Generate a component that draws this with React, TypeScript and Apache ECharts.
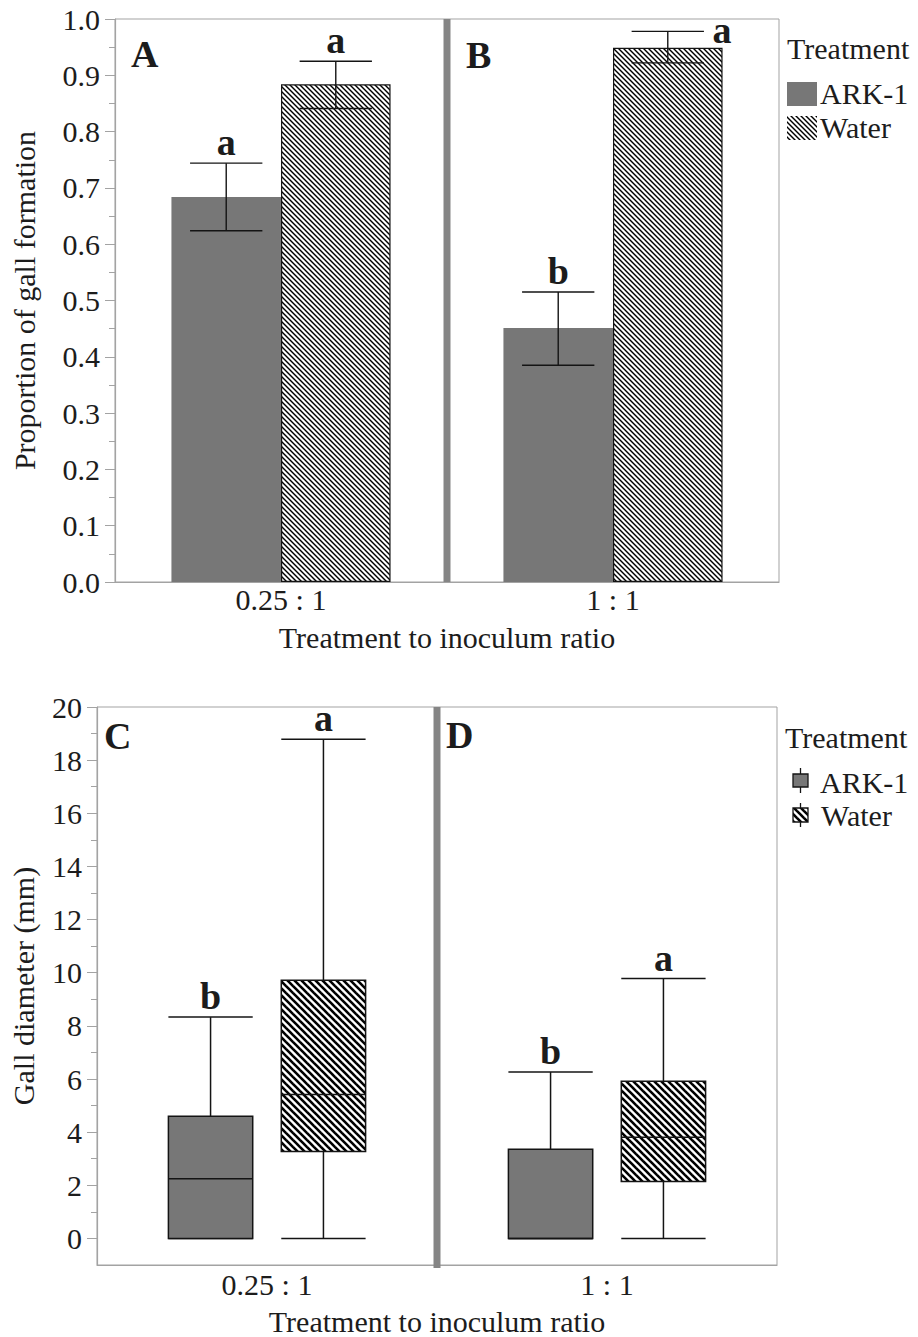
import React, { useEffect, useRef } from "react";
import * as echarts from "echarts";

// ---------- data ----------
const ratioCategories = ["0.25 : 1", "1 : 1"];
const treatmentNames = ["ARK-1", "Water"];

// Panels A/B: proportion of gall formation (mean and error-bar limits)
const arkMean = [0.684, 0.451];
const arkLow = [0.624, 0.385];
const arkHigh = [0.744, 0.515];
const waterMean = [0.884, 0.949];
const waterLow = [0.841, 0.922];
const waterHigh = [0.925, 0.978];
const arkPropLetters = ["a", "b"];
const waterPropLetters = ["a", "a"];

// Panels C/D: gall diameter (mm) box plots [min, Q1, median, Q3, max]
const arkDiameter = [
  [0, 0, 2.25, 4.6, 8.33],
  [0, 0, 0, 3.36, 6.26],
];
const waterDiameter = [
  [0, 3.27, 5.42, 9.72, 18.79],
  [0, 2.14, 3.81, 5.92, 9.78],
];
const arkDiamLetters = ["b", "b"];
const waterDiamLetters = ["a", "a"];

const diameterTicks = [0, 2, 4, 6, 8, 10, 12, 14, 16, 18, 20];
const diameterMinorTicks = [1, 3, 5, 7, 9, 11, 13, 15, 17, 19];
const topPanelLabels = ["A", "B"];
const bottomPanelLabels = ["C", "D"];

// ---------- layout / style ----------
const TOP = { left: 115, top: 19, width: 664, height: 563 };
const BOT = { left: 97, top: 707, width: 680, height: 561 };
const SERIF = '"Liberation Serif", "Times New Roman", serif';
const TEXT = "#1c1c1c";
const AXIS = "#a3a3a3";
const GRAY = "#777777";
const DIVIDER = "#858585";
const BAR_CAT_GAP = 0.34;
const LINE = "#141414";

function makeHatch(pitch: number, lw: number) {
  const c = document.createElement("canvas");
  c.width = pitch;
  c.height = pitch;
  const ctx = c.getContext("2d")!;
  ctx.fillStyle = "#ffffff";
  ctx.fillRect(0, 0, pitch, pitch);
  ctx.strokeStyle = "#000000";
  ctx.lineWidth = lw;
  for (const o of [-pitch, 0, pitch]) {
    ctx.beginPath();
    ctx.moveTo(o - 2, -2);
    ctx.lineTo(o + pitch + 2, pitch + 2);
    ctx.stroke();
  }
  return { image: c, repeat: "repeat", imageWidth: pitch, imageHeight: pitch };
}

function letterStyle(text: string) {
  return {
    text,
    font: `bold 38px ${SERIF}`,
    fill: TEXT,
    align: "center",
    verticalAlign: "middle",
  };
}

function errorRenderer(sign: number, letters: string[]) {
  return (params: any, api: any) => {
    const i = api.value(0);
    const lo = api.coord([i, api.value(1)]);
    const hi = api.coord([i, api.value(2)]);
    const band = api.size([1, 0])[0];
    const barW = (band * (1 - BAR_CAT_GAP)) / 2;
    const cx = lo[0] + (sign * barW) / 2;
    const capHalf = barW * 0.33;
    const style = { stroke: LINE, lineWidth: 1.4 };
    const crowded = hi[1] - 40 < params.coordSys.y;
    const tx = crowded ? cx + capHalf + 18 : cx;
    const ty = crowded ? hi[1] - 1 : hi[1] - 21;
    return {
      type: "group",
      children: [
        { type: "line", shape: { x1: cx, y1: lo[1], x2: cx, y2: hi[1] }, style },
        { type: "line", shape: { x1: cx - capHalf, y1: lo[1], x2: cx + capHalf, y2: lo[1] }, style },
        { type: "line", shape: { x1: cx - capHalf, y1: hi[1], x2: cx + capHalf, y2: hi[1] }, style },
        { type: "text", x: tx, y: ty, style: letterStyle(letters[params.dataIndex]) },
      ],
    };
  };
}

function boxRenderer(sign: number, letters: string[], fill: any) {
  return (params: any, api: any) => {
    const i = api.value(0);
    const band = api.size([1, 0])[0];
    const base = api.coord([i, 0])[0];
    const cx = base + sign * band * 0.166;
    const half = band * 0.124;
    const y = (k: number) => api.coord([i, api.value(k)])[1];
    const yMin = y(1), yQ1 = y(2), yMed = y(3), yQ3 = y(4), yMax = y(5);
    const style = { stroke: LINE, lineWidth: 1.5 };
    return {
      type: "group",
      children: [
        { type: "line", shape: { x1: cx, y1: yQ3, x2: cx, y2: yMax }, style },
        { type: "line", shape: { x1: cx, y1: yQ1, x2: cx, y2: yMin }, style },
        { type: "line", shape: { x1: cx - half, y1: yMax, x2: cx + half, y2: yMax }, style },
        { type: "line", shape: { x1: cx - half, y1: yMin, x2: cx + half, y2: yMin }, style },
        {
          type: "rect",
          shape: { x: cx - half, y: yQ3, width: half * 2, height: yQ1 - yQ3 },
          style: { fill, stroke: LINE, lineWidth: 1.5 },
        },
        { type: "line", shape: { x1: cx - half, y1: yMed, x2: cx + half, y2: yMed }, style },
        { type: "text", x: cx, y: yMax - 21, style: letterStyle(letters[params.dataIndex]) },
      ],
    };
  };
}

function plainText(text: string, x: number, y: number, size = 30, bold = false) {
  return {
    type: "text",
    x,
    y,
    z: 100,
    style: {
      text,
      font: `${bold ? "bold " : ""}${size}px ${SERIF}`,
      fill: TEXT,
      align: "left",
      verticalAlign: "middle",
    },
  };
}

export default function App() {
  const ref = useRef<HTMLDivElement>(null);

  useEffect(() => {
    if (!ref.current) return;
    const chart = echarts.init(ref.current, undefined, { renderer: "svg" });
    const hatchTop = makeHatch(5, 1.4);
    const hatchBot = makeHatch(7, 2.6);

    const axisName = { fontSize: 30, color: TEXT, fontFamily: SERIF };
    const tickLabel = { fontSize: 30, color: TEXT, fontFamily: SERIF };

    const option: any = {
      animation: false,
      backgroundColor: "#ffffff",
      textStyle: { fontFamily: SERIF },
      grid: [
        { left: TOP.left, top: TOP.top, width: TOP.width, height: TOP.height, show: true, borderColor: AXIS, borderWidth: 1, backgroundColor: "transparent" },
        { left: BOT.left, top: BOT.top, width: BOT.width, height: BOT.height, show: true, borderColor: AXIS, borderWidth: 1, backgroundColor: "transparent" },
      ],
      xAxis: [
        {
          type: "category",
          gridIndex: 0,
          data: ratioCategories,
          axisLine: { onZero: false, lineStyle: { color: AXIS, width: 1.2 } },
          axisTick: { show: false },
          axisLabel: { ...tickLabel, margin: 2 },
          name: "Treatment to inoculum ratio",
          nameLocation: "middle",
          nameGap: 40,
          nameTextStyle: axisName,
        },
        {
          type: "category",
          gridIndex: 1,
          data: ratioCategories,
          axisLine: { onZero: false, lineStyle: { color: AXIS, width: 1.2 } },
          axisTick: { show: false },
          axisLabel: { ...tickLabel, margin: 4 },
          name: "Treatment to inoculum ratio",
          nameLocation: "middle",
          nameGap: 41,
          nameTextStyle: axisName,
        },
      ],
      yAxis: [
        {
          type: "value",
          gridIndex: 0,
          position: "left",
          min: 0,
          max: 1,
          interval: 0.1,
          axisLine: { show: true, lineStyle: { color: AXIS, width: 1.2 } },
          axisTick: { show: true, length: 10, lineStyle: { color: AXIS } },
          minorTick: { show: true, splitNumber: 2, length: 6, lineStyle: { color: AXIS } },
          splitLine: { show: false },
          axisLabel: { ...tickLabel, margin: 15, formatter: (v: number) => v.toFixed(1) },
          name: "Proportion of gall formation",
          nameLocation: "middle",
          nameGap: 76,
          nameTextStyle: axisName,
        },
        {
          type: "value",
          gridIndex: 1,
          position: "left",
          min: -1,
          max: 20,
          axisLine: { show: true, lineStyle: { color: AXIS, width: 1.2 } },
          axisTick: { show: true, length: 10, lineStyle: { color: AXIS }, customValues: diameterTicks },
          splitLine: { show: false },
          axisLabel: { ...tickLabel, margin: 15, customValues: diameterTicks },
          name: "Gall diameter (mm)",
          nameLocation: "middle",
          nameGap: 59,
          nameTextStyle: axisName,
        },
        {
          type: "value",
          gridIndex: 1,
          position: "left",
          min: -1,
          max: 20,
          axisLine: { show: false },
          axisTick: { show: true, length: 6, lineStyle: { color: AXIS }, customValues: diameterMinorTicks },
          splitLine: { show: false },
          axisLabel: { show: false },
        },
      ],
      series: [
        {
          name: treatmentNames[0],
          type: "bar",
          xAxisIndex: 0,
          yAxisIndex: 0,
          data: arkMean,
          barGap: "0%",
          barCategoryGap: `${BAR_CAT_GAP * 100}%`,
          itemStyle: { color: GRAY },
        },
        {
          name: treatmentNames[1],
          type: "bar",
          xAxisIndex: 0,
          yAxisIndex: 0,
          data: waterMean,
          barGap: "0%",
          barCategoryGap: `${BAR_CAT_GAP * 100}%`,
          itemStyle: { color: hatchTop, borderColor: LINE, borderWidth: 1.2 },
        },
        {
          name: treatmentNames[0] + " error",
          type: "custom",
          xAxisIndex: 0,
          yAxisIndex: 0,
          z: 5,
          data: arkMean.map((_, i) => [i, arkLow[i], arkHigh[i]]),
          renderItem: errorRenderer(-1, arkPropLetters),
        },
        {
          name: treatmentNames[1] + " error",
          type: "custom",
          xAxisIndex: 0,
          yAxisIndex: 0,
          z: 5,
          data: waterMean.map((_, i) => [i, waterLow[i], waterHigh[i]]),
          renderItem: errorRenderer(1, waterPropLetters),
        },
        {
          name: treatmentNames[0] + " diameter",
          type: "custom",
          xAxisIndex: 1,
          yAxisIndex: 1,
          z: 5,
          data: arkDiameter.map((b, i) => [i, ...b]),
          renderItem: boxRenderer(-1, arkDiamLetters, GRAY),
        },
        {
          name: treatmentNames[1] + " diameter",
          type: "custom",
          xAxisIndex: 1,
          yAxisIndex: 1,
          z: 5,
          data: waterDiameter.map((b, i) => [i, ...b]),
          renderItem: boxRenderer(1, waterDiamLetters, hatchBot),
        },
      ],
      graphic: [
        // panel dividers
        { type: "rect", z: 100, shape: { x: TOP.left + TOP.width / 2 - 3.5, y: TOP.top, width: 7, height: TOP.height }, style: { fill: DIVIDER } },
        { type: "rect", z: 100, shape: { x: BOT.left + BOT.width / 2 - 3.5, y: BOT.top, width: 7, height: BOT.height }, style: { fill: DIVIDER } },
        // panel letters
        plainText(topPanelLabels[0], 131, 54, 38, true),
        plainText(topPanelLabels[1], 466, 55, 38, true),
        plainText(bottomPanelLabels[0], 104, 736, 38, true),
        plainText(bottomPanelLabels[1], 446, 735, 38, true),
        // top legend
        plainText("Treatment", 787, 48),
        { type: "rect", z: 100, shape: { x: 787, y: 82, width: 30, height: 24 }, style: { fill: GRAY } },
        plainText(treatmentNames[0], 820, 93),
        { type: "rect", z: 100, shape: { x: 787, y: 116, width: 30, height: 24 }, style: { fill: hatchTop } },
        plainText(treatmentNames[1], 820, 127),
        // bottom legend
        plainText("Treatment", 785, 737),
        { type: "line", z: 100, shape: { x1: 800.5, y1: 768, x2: 800.5, y2: 793 }, style: { stroke: LINE, lineWidth: 1.3 } },
        { type: "rect", z: 101, shape: { x: 793, y: 774, width: 15, height: 13 }, style: { fill: GRAY, stroke: LINE, lineWidth: 1.3 } },
        plainText(treatmentNames[0], 820, 782),
        { type: "line", z: 100, shape: { x1: 800.5, y1: 803, x2: 800.5, y2: 827 }, style: { stroke: LINE, lineWidth: 1.3 } },
        { type: "rect", z: 101, shape: { x: 793, y: 808, width: 15, height: 14 }, style: { fill: hatchBot, stroke: LINE, lineWidth: 1.3 } },
        plainText(treatmentNames[1], 821, 815),
      ],
    };

    chart.setOption(option);
    return () => chart.dispose();
  }, []);

  return (
    <div
      ref={ref}
      style={{ position: "absolute", left: 0, top: 0, width: 918, height: 1337, background: "#fff" }}
    />
  );
}
